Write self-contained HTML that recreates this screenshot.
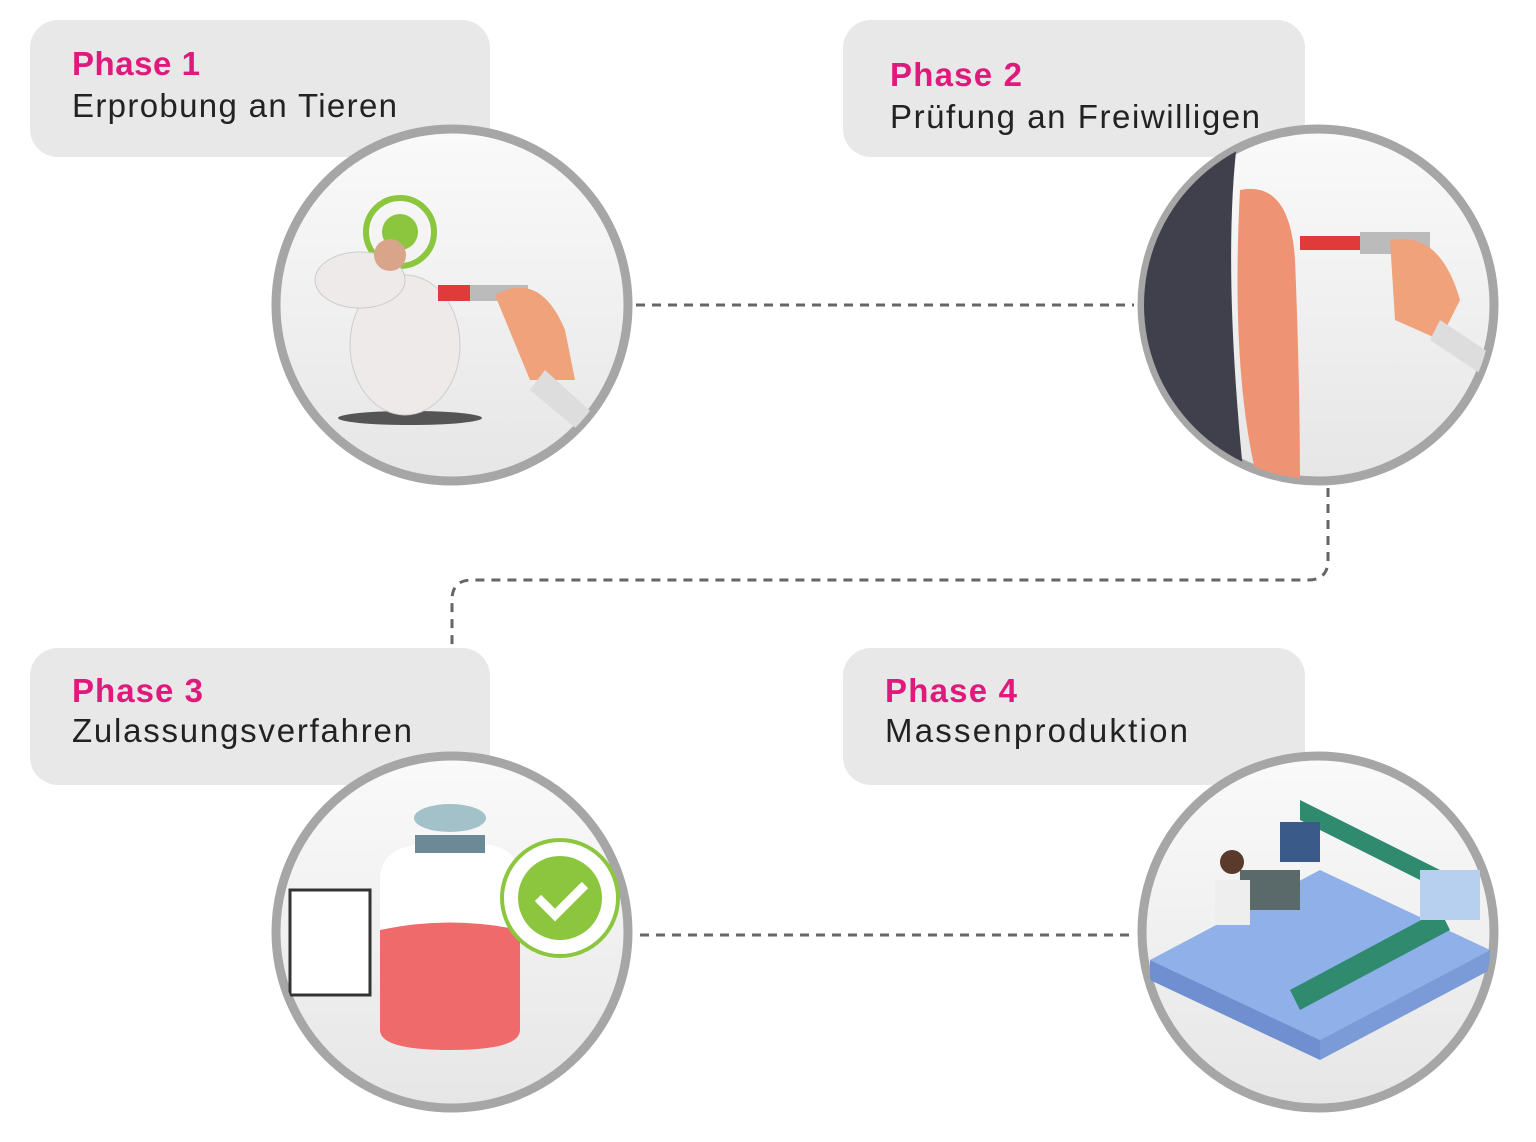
<!DOCTYPE html>
<html><head><meta charset="utf-8"><style>
body{margin:0;width:1536px;height:1137px;background:#fff;overflow:hidden;font-family:"Liberation Sans",sans-serif;}
</style></head><body>
<svg width="1536" height="1137" viewBox="0 0 1536 1137" xmlns="http://www.w3.org/2000/svg">
<defs>
<linearGradient id="g" x1="0" y1="0" x2="0" y2="1"><stop offset="0" stop-color="#fafafa"/><stop offset="1" stop-color="#e6e6e6"/></linearGradient>
<clipPath id="c1"><circle cx="452" cy="305" r="174"/></clipPath>
<clipPath id="c2"><circle cx="1318" cy="305" r="174"/></clipPath>
<clipPath id="c3"><circle cx="452" cy="932" r="174"/></clipPath>
<clipPath id="c4"><circle cx="1318" cy="932" r="174"/></clipPath>
</defs>
<rect x="30" y="20" width="460" height="137" rx="28" fill="#e8e8e8"/>
<rect x="843" y="20" width="462" height="137" rx="28" fill="#e8e8e8"/>
<rect x="30" y="648" width="460" height="137" rx="28" fill="#e8e8e8"/>
<rect x="843" y="648" width="462" height="137" rx="28" fill="#e8e8e8"/>
<g font-size="33">
<text x="72" y="75" fill="#e0197d" font-weight="bold" textLength="128">Phase 1</text>
<text x="72" y="117" fill="#222" textLength="325">Erprobung an Tieren</text>
<text x="890" y="86" fill="#e0197d" font-weight="bold" textLength="132">Phase 2</text>
<text x="890" y="128" fill="#222" textLength="370">Prüfung an Freiwilligen</text>
<text x="72" y="702" fill="#e0197d" font-weight="bold" textLength="131">Phase 3</text>
<text x="72" y="742" fill="#222" textLength="340">Zulassungsverfahren</text>
<text x="885" y="702" fill="#e0197d" font-weight="bold" textLength="132">Phase 4</text>
<text x="885" y="742" fill="#222" textLength="303">Massenproduktion</text>
</g>
<g stroke="#666" stroke-width="3" stroke-dasharray="9,7" fill="none">
<line x1="636" y1="305" x2="1134" y2="305"/>
<path d="M1328 488 V560 Q1328 580 1308 580 H472 Q452 580 452 600 V648"/>
<line x1="640" y1="935" x2="1130" y2="935"/>
</g>
<g stroke="#a6a6a6" stroke-width="9" fill="url(#g)">
<circle cx="452" cy="305" r="176"/>
<circle cx="1318" cy="305" r="176"/>
<circle cx="452" cy="932" r="176"/>
<circle cx="1318" cy="932" r="176"/>
</g>
<g clip-path="url(#c1)">
<circle cx="400" cy="232" r="34" fill="none" stroke="#8cc63f" stroke-width="6"/>
<circle cx="400" cy="232" r="18" fill="#8cc63f"/>
<ellipse cx="410" cy="418" rx="72" ry="7" fill="#555"/>
<ellipse cx="405" cy="345" rx="55" ry="70" fill="#eeeaea" stroke="#ccc"/>
<ellipse cx="360" cy="280" rx="45" ry="28" fill="#eeeaea" stroke="#ccc"/>
<circle cx="390" cy="255" r="16" fill="#d9a58a"/>
<rect x="438" y="285" width="90" height="16" fill="#e03a3a"/>
<rect x="470" y="285" width="58" height="16" fill="#bbb"/>
<path d="M495 295 Q540 270 565 330 L575 380 L530 380 Z" fill="#f0a27a"/>
<path d="M545 370 L600 420 L590 440 L530 390Z" fill="#ddd"/>
</g>
<g clip-path="url(#c2)">
<path d="M1130 120 H1240 Q1220 250 1245 490 H1130Z" fill="#40404c"/>
<path d="M1240 190 Q1290 180 1295 260 Q1300 380 1300 490 H1260 Q1230 380 1240 190Z" fill="#ee9474"/>
<rect x="1300" y="236" width="90" height="14" fill="#e03a3a"/>
<rect x="1360" y="232" width="70" height="22" fill="#bbb"/>
<path d="M1390 240 Q1440 230 1460 300 L1440 340 L1395 320Z" fill="#f0a27a"/>
<path d="M1440 320 L1500 360 L1490 380 L1430 340Z" fill="#ddd"/>
</g>
<g clip-path="url(#c3)">
<path d="M380 880 Q380 850 415 845 H490 Q520 850 520 880 V1030 Q520 1050 450 1050 Q380 1050 380 1030Z" fill="#fff"/>
<path d="M380 930 Q450 915 520 930 V1030 Q520 1050 450 1050 Q380 1050 380 1030Z" fill="#ef6a6a"/>
<rect x="415" y="835" width="70" height="18" fill="#6b8a96"/>
<ellipse cx="450" cy="818" rx="36" ry="14" fill="#a3c1c9"/>
<rect x="290" y="890" width="80" height="105" fill="#fff" stroke="#333" stroke-width="3"/>
<circle cx="560" cy="898" r="58" fill="#fff" stroke="#8cc63f" stroke-width="4"/>
<circle cx="560" cy="898" r="42" fill="#8cc63f"/>
<path d="M538 898 L555 915 L585 885" stroke="#fff" stroke-width="9" fill="none"/>
</g>
<g clip-path="url(#c4)">
<path d="M1150 960 L1320 870 L1490 950 L1320 1040Z" fill="#8fb0e8"/>
<path d="M1150 960 L1320 1040 L1320 1060 L1150 980Z" fill="#6f8fd0"/>
<path d="M1320 1040 L1490 950 L1490 970 L1320 1060Z" fill="#7a9ad8"/>
<path d="M1300 800 L1460 880 L1460 900 L1300 820Z" fill="#2f8a6e"/>
<path d="M1290 990 L1440 910 L1450 930 L1300 1010Z" fill="#2f8a6e"/>
<rect x="1280" y="822" width="40" height="40" fill="#3a5a8a"/>
<rect x="1240" y="870" width="60" height="40" fill="#5a6a6a"/>
<circle cx="1232" cy="862" r="12" fill="#5a3a2a"/>
<rect x="1215" y="880" width="35" height="45" fill="#eee"/>
<rect x="1420" y="870" width="60" height="50" fill="#b8d0f0"/>
</g>
</svg>
</body></html>
